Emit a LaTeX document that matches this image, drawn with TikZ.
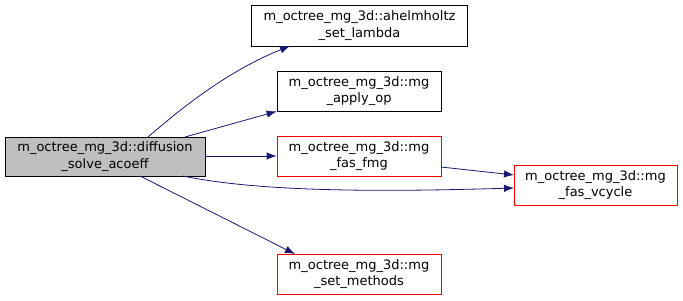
\documentclass[tikz,border=0pt]{standalone}
\usepackage{fontspec}
\setmainfont{DejaVu Sans}
\usetikzlibrary{arrows.meta}
\definecolor{edgeblue}{HTML}{191970}
\begin{document}
\begin{tikzpicture}[x=1pt,y=-1pt,
  box/.style={draw=black,line width=0.8pt,align=center,font=\fontsize{13}{16.5}\selectfont,inner sep=0pt,anchor=center},
  redbox/.style={box,draw=red},
  edge/.style={draw=edgeblue,line width=0.8pt,-{Latex[length=10pt,width=7.5pt]}}]
\useasboundingbox (0,0) rectangle (683,300);
\node[box,fill=black!25,minimum width=200pt,minimum height=39pt] (main) at (105,156.5) {m\_octree\_mg\_3d::diffusion\\\_solve\_acoeff};
\node[box,minimum width=216pt,minimum height=41pt] (ah) at (359.5,25.5) {m\_octree\_mg\_3d::ahelmholtz\\\_set\_lambda};
\node[box,minimum width=164pt,minimum height=40pt] (ap) at (359,91) {m\_octree\_mg\_3d::mg\\\_apply\_op};
\node[redbox,minimum width=164pt,minimum height=40pt] (fmg) at (359,156) {m\_octree\_mg\_3d::mg\\\_fas\_fmg};
\node[redbox,minimum width=164pt,minimum height=40pt] (sm) at (359,274) {m\_octree\_mg\_3d::mg\\\_set\_methods};
\node[redbox,minimum width=163pt,minimum height=40pt] (vc) at (595.5,185) {m\_octree\_mg\_3d::mg\\\_fas\_vcycle};
\coordinate (m1) at (148,137);
\coordinate (m2) at (185,137);
\coordinate (m3) at (183,176);
\coordinate (m4) at (140,176);
\coordinate (ahin) at (290,46);
\coordinate (vcin1) at (514,175);
\coordinate (vcin2) at (514,188);
\coordinate (fmgout) at (441,167);
\coordinate (smin) at (295,254);
\draw[edge] (m1) .. controls (185,105) and (230,70) .. (ahin);
\draw[edge] (m2) -- (ap.south west);
\draw[edge] (main.east |- fmg.west) -- (fmg.west);
\draw[edge] (m3) .. controls (260,192) and (380,192) .. (vcin2);
\draw[edge] (fmgout) -- (vcin1);
\draw[edge] (m4) -- (smin);
\end{tikzpicture}
\end{document}
